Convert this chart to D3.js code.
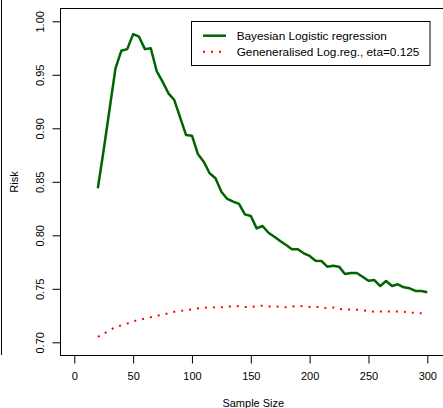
<!DOCTYPE html>
<head>
  <meta charset="utf-8" />
  <script src="https://d3js.org/d3.v7.min.js"></script>
  <style>
    body {
      margin: 0;
      background: #fff;
    }
    svg text {
      font-family: "Liberation Sans", Arial, Helvetica, sans-serif;
      fill: #000;
    }
  </style>
</head>

<body>
  <script>
    var width = 443,
      height = 408;

    // sample sizes 20, 25, ..., 300
    var sampleSize = d3.range(20, 301, 5);

    var bayesRisk = [
      0.844, 0.880, 0.918, 0.956, 0.9725, 0.974, 0.988, 0.9856, 0.974, 0.9748,
      0.9535, 0.9436, 0.9327, 0.9264, 0.910, 0.8937, 0.8931, 0.876, 0.8688, 0.858,
      0.8533, 0.8407, 0.834, 0.8314, 0.8293, 0.8196, 0.818, 0.8065, 0.8087, 0.8024,
      0.7987, 0.7947, 0.791, 0.7869, 0.7869, 0.7832, 0.7807, 0.7763, 0.776, 0.7707,
      0.7716, 0.7707, 0.7638, 0.7648, 0.7648, 0.7613, 0.7576, 0.7582, 0.7526, 0.7573,
      0.7526, 0.7542, 0.7514, 0.7505, 0.748, 0.748, 0.7467
    ];

    var genRisk = [
      0.705, 0.708, 0.7115, 0.714, 0.716, 0.7175, 0.7195, 0.721, 0.7222, 0.7235,
      0.7248, 0.7258, 0.7272, 0.7285, 0.7293, 0.7299, 0.7308, 0.7318, 0.7323, 0.7327,
      0.7326, 0.7328, 0.733, 0.734, 0.7338, 0.733, 0.733, 0.7338, 0.7342, 0.7335,
      0.7335, 0.7332, 0.7327, 0.7335, 0.734, 0.7336, 0.733, 0.733, 0.7328, 0.7318,
      0.7326, 0.7312, 0.7305, 0.7306, 0.7305, 0.73, 0.729, 0.7285, 0.7288, 0.729,
      0.7285, 0.7288, 0.7285, 0.7282, 0.7272, 0.7271, 0.727
    ];

    var xTicks = [0, 50, 100, 150, 200, 250, 300];
    var yTicks = [0.70, 0.75, 0.80, 0.85, 0.90, 0.95, 1.00];
    var legendLabels = ["Bayesian Logistic regression", "Geneneralised Log.reg., eta=0.125"];

    // plot region (the original is cropped on the right)
    var box = { left: 60, top: 8, right: 447, bottom: 355 };

    var svg = d3
      .select("body")
      .append("svg")
      .attr("width", width)
      .attr("height", height);

    var x = d3.scaleLinear().domain([0, 300]).range([74.3, 427.3]);
    var y = d3.scaleLinear().domain([0.7, 1.0]).range([342.3, 21.3]);

    // stray border of the neighbouring panel
    svg.append("line")
      .attr("x1", 1.5).attr("x2", 1.5)
      .attr("y1", 0).attr("y2", 355)
      .attr("stroke", "#000");

    svg.append("clipPath").attr("id", "plotclip")
      .append("rect")
      .attr("x", box.left).attr("y", box.top)
      .attr("width", box.right - box.left)
      .attr("height", box.bottom - box.top);

    var plot = svg.append("g").attr("clip-path", "url(#plotclip)");

    var riskLine = d3.line()
      .x((d, i) => x(sampleSize[i]))
      .y((d) => y(d));

    plot.append("path")
      .datum(genRisk)
      .attr("d", riskLine)
      .attr("fill", "none")
      .attr("stroke", "#ff0000")
      .attr("stroke-width", 2)
      .attr("stroke-dasharray", "2,6");

    plot.append("path")
      .datum(bayesRisk)
      .attr("d", riskLine)
      .attr("fill", "none")
      .attr("stroke", "#006400")
      .attr("stroke-width", 2.5)
      .attr("stroke-linejoin", "round");

    // box
    svg.append("rect")
      .attr("x", box.left + 0.5).attr("y", box.top + 0.5)
      .attr("width", box.right - box.left)
      .attr("height", box.bottom - box.top)
      .attr("fill", "none")
      .attr("stroke", "#000");

    // x axis
    var xAxis = svg.append("g")
      .attr("transform", "translate(0," + (box.bottom + 0.5) + ")")
      .call(d3.axisBottom(x).tickValues(xTicks).tickSize(8).tickPadding(9).tickSizeOuter(0));
    xAxis.select(".domain").remove();
    xAxis.selectAll("text").style("font-size", "11px");
    xAxis.selectAll("line").attr("stroke", "#000");

    // y axis
    var yAxis = svg.append("g")
      .attr("transform", "translate(" + (box.left + 0.5) + ",0)")
      .call(d3.axisLeft(y).tickValues(yTicks).tickSize(8).tickSizeOuter(0).tickFormat(d3.format(".2f")));
    yAxis.select(".domain").remove();
    yAxis.selectAll("line").attr("stroke", "#000");
    yAxis.selectAll("text")
      .attr("transform", "rotate(-90)")
      .attr("text-anchor", "middle")
      .attr("x", 0)
      .attr("y", -16.5)
      .attr("dy", 0)
      .style("font-size", "11px");

    // axis titles
    svg.append("text")
      .attr("x", 253.3)
      .attr("y", 406.5)
      .attr("text-anchor", "middle")
      .style("font-size", "11px")
      .text("Sample Size");

    svg.append("text")
      .attr("transform", "translate(17.5,182) rotate(-90)")
      .attr("text-anchor", "middle")
      .style("font-size", "11px")
      .text("Risk");

    // legend
    var legend = svg.append("g");
    legend.append("rect")
      .attr("x", 191.5).attr("y", 21.5)
      .attr("width", 238.5).attr("height", 44)
      .attr("fill", "#fff")
      .attr("stroke", "#000");

    var legendRows = legend.selectAll(".row")
      .data(legendLabels)
      .join("g")
      .attr("class", "row")
      .attr("transform", (d, i) => "translate(0," + (35.7 + i * 16) + ")");

    legendRows.append("line")
      .attr("x1", 203).attr("x2", 226)
      .attr("y1", 0).attr("y2", 0)
      .attr("stroke", (d, i) => i == 0 ? "#006400" : "#ff0000")
      .attr("stroke-width", (d, i) => i == 0 ? 2.5 : 2)
      .attr("stroke-dasharray", (d, i) => i == 0 ? null : "2,6");

    legendRows.append("text")
      .attr("x", 236.7)
      .attr("y", 0)
      .attr("dy", "0.35em")
      .style("font-size", "11.8px")
      .text((d) => d);
  </script>
</body>
